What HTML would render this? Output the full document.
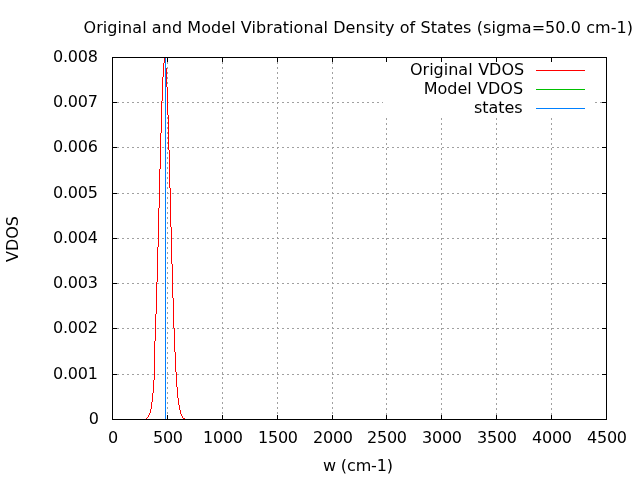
<!DOCTYPE html>
<html><head><meta charset="utf-8"><title>VDOS</title>
<style>
html,body{margin:0;padding:0;background:#fff;}
svg{display:block;will-change:transform;}
text{font-family:'DejaVu Sans','Liberation Sans',sans-serif;font-size:16px;fill:#000;}
.g{stroke:#a0a0a0;stroke-width:1;stroke-dasharray:2 3;shape-rendering:crispEdges;fill:none}
.k{stroke:#000;stroke-width:1;shape-rendering:crispEdges;fill:none}
</style></head><body>
<svg width="640" height="480" viewBox="0 0 640 480">
<rect x="0" y="0" width="640" height="480" fill="#fff"/>

<line class="g" x1="167.5" y1="57" x2="167.5" y2="420"/>
<line class="g" x1="222.5" y1="57" x2="222.5" y2="420"/>
<line class="g" x1="277.5" y1="57" x2="277.5" y2="420"/>
<line class="g" x1="332.5" y1="57" x2="332.5" y2="420"/>
<line class="g" x1="386.5" y1="118" x2="386.5" y2="420"/>
<line class="g" x1="441.5" y1="118" x2="441.5" y2="420"/>
<line class="g" x1="496.5" y1="118" x2="496.5" y2="420"/>
<line class="g" x1="551.5" y1="118" x2="551.5" y2="420"/>
<line class="g" x1="112" y1="374.5" x2="607" y2="374.5"/>
<line class="g" x1="112" y1="328.5" x2="607" y2="328.5"/>
<line class="g" x1="112" y1="283.5" x2="607" y2="283.5"/>
<line class="g" x1="112" y1="238.5" x2="607" y2="238.5"/>
<line class="g" x1="112" y1="193.5" x2="607" y2="193.5"/>
<line class="g" x1="112" y1="147.5" x2="607" y2="147.5"/>
<line class="g" x1="112" y1="102.5" x2="383" y2="102.5"/>
<line class="g" x1="595" y1="102.5" x2="607" y2="102.5"/>
<line class="k" x1="167.5" y1="419" x2="167.5" y2="415"/>
<line class="k" x1="167.5" y1="58" x2="167.5" y2="62"/>
<line class="k" x1="222.5" y1="419" x2="222.5" y2="415"/>
<line class="k" x1="222.5" y1="58" x2="222.5" y2="62"/>
<line class="k" x1="277.5" y1="419" x2="277.5" y2="415"/>
<line class="k" x1="277.5" y1="58" x2="277.5" y2="62"/>
<line class="k" x1="332.5" y1="419" x2="332.5" y2="415"/>
<line class="k" x1="332.5" y1="58" x2="332.5" y2="62"/>
<line class="k" x1="386.5" y1="419" x2="386.5" y2="415"/>
<line class="k" x1="386.5" y1="58" x2="386.5" y2="62"/>
<line class="k" x1="441.5" y1="419" x2="441.5" y2="415"/>
<line class="k" x1="441.5" y1="58" x2="441.5" y2="62"/>
<line class="k" x1="496.5" y1="419" x2="496.5" y2="415"/>
<line class="k" x1="496.5" y1="58" x2="496.5" y2="62"/>
<line class="k" x1="551.5" y1="419" x2="551.5" y2="415"/>
<line class="k" x1="551.5" y1="58" x2="551.5" y2="62"/>
<line class="k" x1="113" y1="374.5" x2="117" y2="374.5"/>
<line class="k" x1="606" y1="374.5" x2="602" y2="374.5"/>
<line class="k" x1="113" y1="328.5" x2="117" y2="328.5"/>
<line class="k" x1="606" y1="328.5" x2="602" y2="328.5"/>
<line class="k" x1="113" y1="283.5" x2="117" y2="283.5"/>
<line class="k" x1="606" y1="283.5" x2="602" y2="283.5"/>
<line class="k" x1="113" y1="238.5" x2="117" y2="238.5"/>
<line class="k" x1="606" y1="238.5" x2="602" y2="238.5"/>
<line class="k" x1="113" y1="193.5" x2="117" y2="193.5"/>
<line class="k" x1="606" y1="193.5" x2="602" y2="193.5"/>
<line class="k" x1="113" y1="147.5" x2="117" y2="147.5"/>
<line class="k" x1="606" y1="147.5" x2="602" y2="147.5"/>
<line class="k" x1="113" y1="102.5" x2="117" y2="102.5"/>
<line class="k" x1="606" y1="102.5" x2="602" y2="102.5"/>
<path d="M164 58h1v5h-1zM163 63h1v14h-1zM162 77h1v24h-1zM161 101h1v32h-1zM160 133h1v36h-1zM159 169h1v39h-1zM158 208h1v39h-1zM157 247h1v35h-1zM156 282h1v32h-1zM155 314h1v27h-1zM154 341h1v39h-1zM153 380h1v13h-1zM152 393h1v9h-1zM151 402h1v7h-1zM150 409h1v4h-1zM149 413h1v2h-1zM148 415h1v2h-1zM147 417h1v1h-1zM146 418h1v1h-1zM165 58h1v10h-1zM166 68h1v19h-1zM167 87h1v28h-1zM168 115h1v35h-1zM169 150h1v38h-1zM170 188h1v39h-1zM171 227h1v37h-1zM172 264h1v34h-1zM173 298h1v30h-1zM174 328h1v24h-1zM175 352h1v20h-1zM176 372h1v15h-1zM177 387h1v11h-1zM178 398h1v7h-1zM179 405h1v5h-1zM180 410h1v4h-1zM181 414h1v2h-1zM182 416h1v2h-1zM183 418h1v1h-1zM184 418h1v1h-1z" fill="#ff0000" shape-rendering="crispEdges"/>
<line x1="165.5" y1="419" x2="165.5" y2="58" stroke="#0080ff" stroke-width="1" shape-rendering="crispEdges"/>
<text y="74.6"><tspan x="410.00">Original</tspan> <tspan x="478.18">VDOS</tspan></text>
<line x1="536" y1="70.5" x2="585" y2="70.5" stroke="#ff0000" stroke-width="1" shape-rendering="crispEdges"/>
<text y="93.7"><tspan x="423.73">Model</tspan> <tspan x="477.08">VDOS</tspan></text>
<line x1="536" y1="89.5" x2="585" y2="89.5" stroke="#00c000" stroke-width="1" shape-rendering="crispEdges"/>
<text y="112.7"><tspan x="474.03" letter-spacing="-0.08">states</tspan></text>
<line x1="536" y1="108.5" x2="585" y2="108.5" stroke="#0080ff" stroke-width="1" shape-rendering="crispEdges"/>
<rect class="k" x="112.5" y="57.5" width="494" height="362"/>
<text x="99" y="424" text-anchor="end" textLength="10" lengthAdjust="spacing">0</text>
<text x="98" y="379" text-anchor="end" textLength="45" lengthAdjust="spacing">0.001</text>
<text x="98" y="333" text-anchor="end" textLength="45" lengthAdjust="spacing">0.002</text>
<text x="98" y="288" text-anchor="end" textLength="45" lengthAdjust="spacing">0.003</text>
<text x="98" y="243" text-anchor="end" textLength="45" lengthAdjust="spacing">0.004</text>
<text x="98" y="198" text-anchor="end" textLength="45" lengthAdjust="spacing">0.005</text>
<text x="98" y="152" text-anchor="end" textLength="45" lengthAdjust="spacing">0.006</text>
<text x="98" y="107" text-anchor="end" textLength="45" lengthAdjust="spacing">0.007</text>
<text x="98" y="62" text-anchor="end" textLength="45" lengthAdjust="spacing">0.008</text>
<text x="113.0" y="443" text-anchor="middle" textLength="10" lengthAdjust="spacing">0</text>
<text x="168.0" y="443" text-anchor="middle" textLength="30" lengthAdjust="spacing">500</text>
<text x="223.0" y="443" text-anchor="middle" textLength="40" lengthAdjust="spacing">1000</text>
<text x="278.0" y="443" text-anchor="middle" textLength="40" lengthAdjust="spacing">1500</text>
<text x="333.0" y="443" text-anchor="middle" textLength="40" lengthAdjust="spacing">2000</text>
<text x="387.0" y="443" text-anchor="middle" textLength="40" lengthAdjust="spacing">2500</text>
<text x="442.0" y="443" text-anchor="middle" textLength="40" lengthAdjust="spacing">3000</text>
<text x="497.0" y="443" text-anchor="middle" textLength="40" lengthAdjust="spacing">3500</text>
<text x="552.0" y="443" text-anchor="middle" textLength="40" lengthAdjust="spacing">4000</text>
<text x="607.0" y="443" text-anchor="middle" textLength="40" lengthAdjust="spacing">4500</text>
<text x="358.3" y="33" text-anchor="middle" textLength="549.5" lengthAdjust="spacing">Original and Model Vibrational Density of States (sigma=50.0 cm-1)</text>
<text x="358.0" y="471" text-anchor="middle" textLength="70.2" lengthAdjust="spacing">w (cm-1)</text>
<text transform="translate(18.2,239) rotate(-90)" text-anchor="middle">VDOS</text>
</svg></body></html>
